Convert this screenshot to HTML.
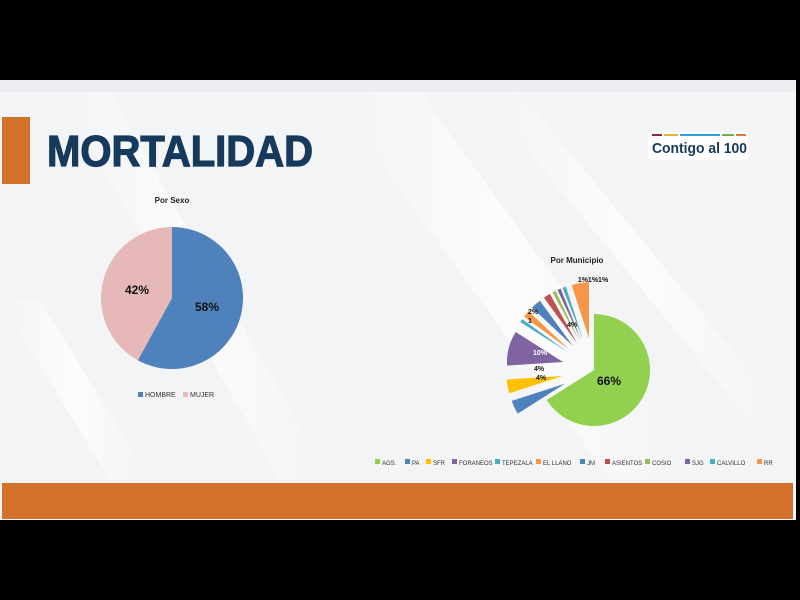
<!DOCTYPE html>
<html><head><meta charset="utf-8"><style>
body{margin:0;width:800px;height:600px;background:#000;overflow:hidden;font-family:"Liberation Sans",sans-serif;position:relative}
#slide{position:absolute;left:0;top:80px;width:796px;height:440px;background:#f3f4f6}
</style></head><body>
<div id="slide"></div>
<svg width="800" height="600" style="position:absolute;left:0;top:0">
<defs><linearGradient id="g" x1="0" y1="0" x2="1" y2="0"><stop offset="0" stop-color="#fff" stop-opacity="0"/><stop offset="0.5" stop-color="#fff" stop-opacity="0.9"/><stop offset="1" stop-color="#fff" stop-opacity="0"/></linearGradient></defs>
<rect x="0" y="80" width="796" height="12" fill="#ebedf0"/>
<g opacity="0.8">
<polygon points="60,92 110,92 330,480 280,480" fill="url(#g)"/>
<polygon points="330,92 420,92 700,480 610,480" fill="url(#g)"/>
<polygon points="480,92 520,92 790,420 790,470" fill="url(#g)"/>
<polygon points="0,300 40,300 150,480 110,480" fill="url(#g)"/>
</g>
<rect x="2" y="117" width="28" height="67" fill="#d2702c"/>
<text x="47" y="166" font-family="'Liberation Sans Narrow','Liberation Sans',sans-serif" font-size="44" font-weight="900" fill="#163a5c" stroke="#163a5c" stroke-width="1.2" textLength="266" lengthAdjust="spacingAndGlyphs">MORTALIDAD</text>
<rect x="648" y="132" width="100" height="28" fill="#fff" rx="3"/>
<rect x="652" y="134" width="10" height="2" fill="#8b2b3b"/><rect x="664" y="134" width="14" height="2" fill="#e3b630"/><rect x="680" y="134" width="40" height="2" fill="#2fa4d6"/><rect x="722" y="134" width="12" height="2" fill="#6ab04c"/><rect x="736" y="134" width="10" height="2" fill="#e07b39"/>
<text x="652" y="153" font-size="15" font-weight="bold" fill="#163a5c" textLength="95" lengthAdjust="spacingAndGlyphs">Contigo al 100</text>
<text x="172" y="203" font-size="8" font-weight="bold" text-anchor="middle" fill="#222">Por Sexo</text>
<g id="sex"></g>
<text x="207" y="311" font-size="12" font-weight="bold" text-anchor="middle" fill="#111">58%</text>
<text x="137" y="294" font-size="12" font-weight="bold" text-anchor="middle" fill="#111">42%</text>
<rect x="138" y="392" width="5" height="5" fill="#4f81bd"/><text x="145" y="397" font-size="7" fill="#333">HOMBRE</text>
<rect x="183" y="392" width="5" height="5" fill="#e6b9b8"/><text x="190" y="397" font-size="7" fill="#333">MUJER</text>
<text x="577" y="263" font-size="8" font-weight="bold" text-anchor="middle" fill="#222">Por Municipio</text>
<g id="mun"></g>
<text x="609" y="385" font-size="12" font-weight="bold" text-anchor="middle" fill="#111">66%</text>
<text x="540" y="355" font-size="7" font-weight="bold" text-anchor="middle" fill="#fff">10%</text>
<text x="539" y="371" font-size="7" font-weight="bold" text-anchor="middle" fill="#111">4%</text>
<text x="541" y="380" font-size="7" font-weight="bold" text-anchor="middle" fill="#111">4%</text>
<text x="572" y="327" font-size="7" font-weight="bold" text-anchor="middle" fill="#111">4%</text>
<text x="593" y="282" font-size="7" font-weight="bold" text-anchor="middle" fill="#111">1%1%1%</text>
<text x="533" y="314" font-size="7" font-weight="bold" text-anchor="middle" fill="#111">2%</text>
<text x="530" y="323" font-size="7" font-weight="bold" text-anchor="middle" fill="#111">1</text>
<g font-size="6" fill="#333" id="leg"></g>
<rect x="2" y="483" width="791" height="36" fill="#d2702c"/>
</svg>
<script>
function arc(cx,cy,r,a0,a1,col,off){var m=(a0+a1)/2*Math.PI/180;cx+=Math.sin(m)*off;cy-=Math.cos(m)*off;
var p=function(a){a=a*Math.PI/180;return [cx+r*Math.sin(a),cy-r*Math.cos(a)]};var s=p(a0),e=p(a1);
return '<path d="M'+cx+','+cy+'L'+s[0]+','+s[1]+'A'+r+','+r+' 0 '+((a1-a0)>180?1:0)+' 1 '+e[0]+','+e[1]+'Z" fill="'+col+'"/>';}
document.getElementById('sex').innerHTML=arc(172,298,71,0,208.8,'#4f81bd',0)+arc(172,298,71,208.8,360,'#e6b9b8',0);
var d=[[66,'#92d050'],[4,'#4f81bd'],[4,'#ffc000'],[10,'#8064a2'],[1,'#4bacc6'],[2,'#f79646'],[3,'#4f81bd'],[2,'#c0504d'],[1,'#9bbb59'],[1,'#8064a2'],[1,'#4bacc6'],[5,'#f79646']];
var h='',a=0;d.forEach(function(x,i){var b=a+x[0]*3.6;h+=arc(594,370,56,a,b,x[1],i?32:0);a=b;});
document.getElementById('mun').innerHTML=h;
var names=['AGS.','PA','SFR','FORANEOS','TEPEZALA','EL LLANO','JM','ASIENTOS','COSIO','SJG','CALVILLO','RR'];
var xs=[375,405,426,452,495,536,580,605,645,685,710,757],l='';
names.forEach(function(n,i){l+='<rect x="'+xs[i]+'" y="459" width="5" height="5" fill="'+d[i][1]+'"/><text x="'+(xs[i]+7)+'" y="465">'+n+'</text>';});
document.getElementById('leg').innerHTML=l;
</script>
</body></html>
